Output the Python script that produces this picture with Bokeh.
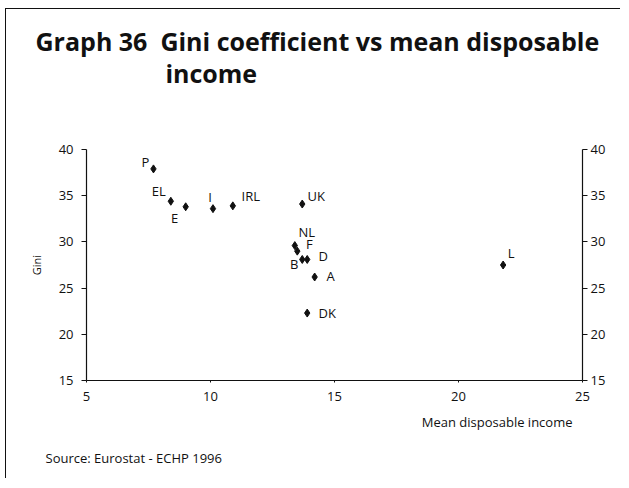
from bokeh.plotting import figure
from bokeh.models import Range1d, LinearAxis, Title, ColumnDataSource, FixedTicker
from bokeh.embed import file_html
from bokeh.resources import INLINE
from bokeh.core.properties import value

# ---- data ----
countries = ["P", "EL", "E", "I", "IRL", "UK", "NL", "F", "B", "D", "A", "DK", "L"]
income = [7.7, 8.4, 9.0, 10.1, 10.9, 13.7, 13.4, 13.5, 13.7, 13.9, 14.2, 13.9, 21.8]
gini = [37.9, 34.4, 33.8, 33.6, 33.9, 34.1, 29.6, 29.0, 28.1, 28.1, 26.2, 22.3, 27.5]
x_ticks = [5, 10, 15, 20, 25]
y_ticks = [15, 20, 25, 30, 35, 40]

# label placement (style, screen pixels relative to the marker)
label_dx = {"P": -8, "EL": -12, "E": -11, "I": -3, "IRL": 18, "UK": 14, "NL": 12,
            "F": 12, "B": -8, "D": 16, "A": 16, "DK": 20, "L": 8}
label_dy = {"P": 7, "EL": 10, "E": -11, "I": 12, "IRL": 10, "UK": 8, "NL": 14,
            "F": 7, "B": -5, "D": 3, "A": 1, "DK": 0, "L": 12}

FONT = "Open Sans"
INK = "#111111"

src = ColumnDataSource(dict(
    x=income, y=gini, name=countries,
    dx=[label_dx[c] for c in countries],
    dy=[-label_dy[c] for c in countries],
))

p = figure(width=620, height=478, output_backend="svg", toolbar_location=None,
           x_range=Range1d(5, 25), y_range=Range1d(15, 40),
           min_border_left=86, min_border_right=38, min_border_top=149,
           min_border_bottom=98, x_axis_location=None, y_axis_location=None)
p.border_fill_color = None
p.background_fill_color = None
p.styles = {"background": "linear-gradient(#111,#111) 5px 8px / 1px 100% no-repeat, "
                          "linear-gradient(#111,#111) 5px 8px / 100% 1px no-repeat, white"}
p.title.visible = False
p.outline_line_color = None
p.grid.visible = False

def style_axis(ax, tick_out):
    ax.axis_line_color = INK
    ax.axis_line_width = 1.2
    ax.major_tick_line_color = INK
    ax.major_tick_out = tick_out
    ax.major_tick_in = 0
    ax.minor_tick_line_color = None
    ax.major_label_text_font = FONT
    ax.major_label_text_font_size = "13px"
    ax.major_label_text_color = INK

xax = LinearAxis(ticker=FixedTicker(ticks=x_ticks))
style_axis(xax, 2)
xax.major_label_standoff = 9
p.add_layout(xax, "below")

yl = LinearAxis(ticker=FixedTicker(ticks=y_ticks), axis_label="Gini")
style_axis(yl, 5)
yl.major_label_standoff = 8
yl.axis_label_text_font = FONT
yl.axis_label_text_font_size = "11px"
yl.axis_label_text_font_style = "normal"
yl.axis_label_text_color = INK
yl.axis_label_standoff = 12
p.add_layout(yl, "left")

yr = LinearAxis(ticker=FixedTicker(ticks=y_ticks))
style_axis(yr, 5)
yr.major_label_standoff = 3
p.add_layout(yr, "right")

p.scatter("x", "y", source=src, marker="diamond", size=8, color=INK)
p.text("x", "y", text="name", source=src, x_offset="dx", y_offset="dy",
       text_align="center", text_baseline="middle",
       text_font=value(FONT), text_font_size="13px", text_color=INK)

def title(txt, side, size, style="normal", align="left", offset=0, standoff=0, lh=1.2):
    p.add_layout(Title(text=txt, align=align, offset=offset, standoff=standoff,
                       text_font=FONT, text_font_size=size, text_font_style=style,
                       text_color=INK, text_line_height=lh), side)

NB = "\u00a0"
# invisible spacer between frame and the heading
title(NB, "above", "1px", standoff=56)
title("Graph 36" + NB * 2 + "Gini coefficient vs mean disposable\n" + NB * 20 + "income",
      "above", "25px", "bold", offset=-51, standoff=0, lh=0.95)
title("Mean disposable income", "below", "13px", align="right", offset=10, standoff=14)
title("Source: Eurostat - ECHP 1996", "below", "13px", offset=-41, standoff=19)

open("out.html", "w").write(file_html(p, INLINE))
